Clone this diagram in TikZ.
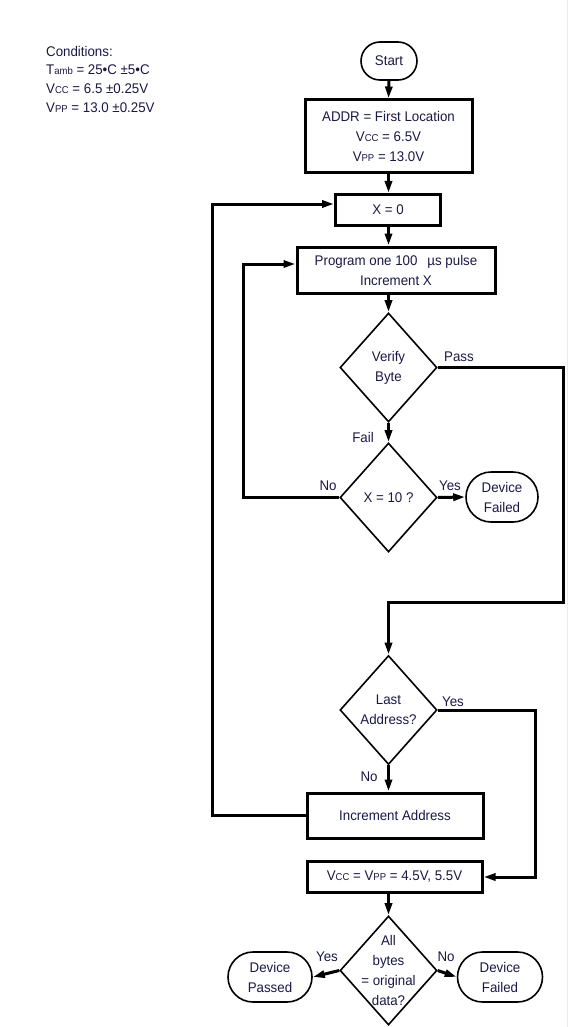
\documentclass[tikz,border=0pt]{standalone}
\usepackage{fontspec}
\setmainfont{Liberation Sans}[FakeStretch=0.95]
\usetikzlibrary{shapes.geometric,shapes.misc,arrows.meta}
\definecolor{txt}{RGB}{25,25,70}
\newcommand{\sm}[1]{{\fontsize{10}{10}\selectfont #1}}
\begin{document}
\begin{tikzpicture}[x=1pt,y=-1pt,
  every node/.style={font=\fontsize{14}{20}\selectfont, text=txt},
  box/.style={draw=black, line width=3pt, rectangle, inner sep=0pt, align=center},
  dia/.style={draw=black, line width=1.6pt, diamond, inner sep=0pt, minimum width=97pt, minimum height=109pt},
  term/.style={draw=black, line width=1.6pt, rounded rectangle, inner sep=0pt, align=center},
  conn/.style={draw=black, line width=3pt, -{Triangle[length=12pt,width=7pt]}},
  line/.style={draw=black, line width=3pt},
  lbl/.style={inner sep=0pt},
  ctext/.style={inner sep=0pt, anchor=west}]
\useasboundingbox (0,0) rectangle (569,1027);
\fill[white] (0,0) rectangle (569,1027);
\draw[black!8, line width=1pt] (567,0) -- (567,1027);

% conditions
\node[ctext] (c1) at (46,51) {Conditions:};
\node[ctext] (c2) at (46,70) {T\sm{amb} = 25\textbullet C ±5\textbullet C};
\node[ctext] (c3) at (46,89) {V\sm{CC} = 6.5 ±0.25V};
\node[ctext] (c4) at (46,108) {V\sm{PP} = 13.0 ±0.25V};

% nodes
\node[term, minimum width=56pt, minimum height=38pt] (start) at (389,61) {Start};
\node[box, minimum width=167pt, minimum height=73pt] (addr) at (388.5,136.5) {ADDR = First Location\\V\sm{CC} = 6.5V\\V\sm{PP} = 13.0V};
\node[box, minimum width=105pt, minimum height=31pt] (x0) at (388,210) {X = 0};
\node[box, minimum width=198pt, minimum height=46pt] (prog) at (396,270) {Program one 100\hspace{10pt}µs pulse\\Increment X};
\node[dia] (verify) at (388.5,367.5) {};
\node[lbl, align=center] (verifyt) at (verify.center) {Verify\\Byte};
\node[dia] (x10) at (388.5,497.5) {};
\node[lbl] (x10t) at (x10.center) {X = 10 ?};
\node[term, minimum width=72pt, minimum height=50pt] (fail1) at (502,497) {Device\\Failed};
\node[dia] (last) at (388.5,710) {};
\node[lbl, align=center] (lastt) at (last.center) {Last\\Address?};
\node[box, minimum width=176pt, minimum height=45pt] (inc) at (395,815.5) {Increment Address};
\node[box, minimum width=175pt, minimum height=31pt] (vcc) at (394.5,877) {V\sm{CC} = V\sm{PP} = 4.5V, 5.5V};
\node[dia] (all) at (388.5,970.5) {};
\node[lbl, align=center] (allt) at (all.center) {All\\bytes\\= original\\data?};
\node[term, minimum width=84pt, minimum height=50pt] (passed) at (270,977) {Device\\Passed};
\node[term, minimum width=85pt, minimum height=50pt] (fail2) at (500,977) {Device\\Failed};

% coordinates
\coordinate (r1) at (563,602);
\coordinate (r2) at (535,877);
\coordinate (l1) at (243,497.5);
\coordinate (l2) at (212,815.5);

% connectors
\draw[conn] (start.south) -- (addr.north);
\draw[conn] (addr.north |- addr.south) -- (addr.north |- x0.north);
\draw[conn] (verify.north |- x0.south) -- (verify.north |- prog.north);
\draw[conn] (verify.north |- prog.south) -- (verify.north);
\draw[conn] (verify.south) -- (x10.north);
\draw[conn] (x10.east) -- (fail1.west);
\draw[conn] (x10.west) -- (l1) |- ([yshift=6pt]prog.west);
\draw[conn] (verify.east) -| (r1) -| (last.north);
\draw[conn] (last.south) -- (last.south |- inc.north);
\draw[conn] (last.east) -| (r2) -- (vcc.east);
\draw[conn] (inc.west) -- (l2) |- ([yshift=6pt]x0.west);
\draw[conn] (all.north |- vcc.south) -- (all.north);
\draw[conn] (all.west) -- (passed.east);
\draw[conn] (all.east) -- (fail2.west);

% labels
\node[lbl] (lpass) at (459,357) {Pass};
\node[lbl] (lfail) at (363,437) {Fail};
\node[lbl] (lno1) at (328,486) {No};
\node[lbl] (lyes1) at (450,486) {Yes};
\node[lbl] (lyes2) at (453,702) {Yes};
\node[lbl] (lno2) at (369,777) {No};
\node[lbl] (lyes3) at (327,957) {Yes};
\node[lbl] (lno3) at (446,957) {No};
\end{tikzpicture}
\end{document}
